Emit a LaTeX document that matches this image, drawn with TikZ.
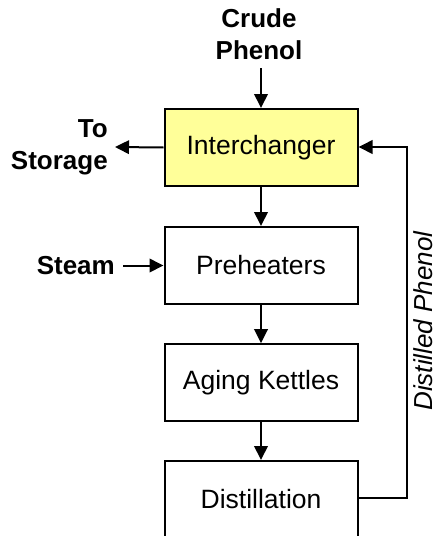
\documentclass[tikz,border=0pt]{standalone}
\usepackage{fontspec}
\setmainfont{Liberation Sans}
\usetikzlibrary{arrows.meta}
\definecolor{boxyellow}{HTML}{FFFF99}
\tikzset{
  unitbox/.style={draw=black, line width=2pt, minimum width=193pt, minimum height=77pt, inner sep=0pt, font=\fontsize{26.5}{30}\selectfont},
  flow/.style={line width=2pt, -{Triangle[length=14pt,width=13.5pt]}},
  lbl/.style={font=\fontsize{26}{32}\selectfont\bfseries, inner sep=0pt, align=center},
}
\begin{document}
\begin{tikzpicture}[x=1pt,y=-1pt]
\useasboundingbox (0,0) rectangle (438,536);
\node[unitbox, fill=boxyellow] (inter) at (261,147.5) {Interchanger};
\node[unitbox] (pre) at (261,265.5) {Preheaters};
\node[unitbox] (aging) at (261,382.7) {Aging Kettles};
\node[unitbox] (dist) at (261,499.5) {Distillation};
\node[lbl] (crude) at (259,34) {Crude\\Phenol};
\node[lbl, align=right, anchor=east] (store) at (108,147) {To\\Storage};
\node[lbl, anchor=east] (steam) at (115,266) {Steam};
\node[font=\fontsize{26}{30}\selectfont\itshape, rotate=90, inner sep=0pt, text depth=0pt, anchor=south] (dp) at (433,321) {Distilled Phenol};
\coordinate (cin) at (261,68);
\coordinate (sout) at (115,147);
\coordinate (stin) at (123,265.5);
\coordinate (c1) at (406.5,498);
\coordinate (c2) at (406.5,147);
\draw[flow] (cin) -- (inter.north);
\draw[flow] (inter.west) -- (sout);
\draw[flow] (stin) -- (pre.west);
\draw[flow] (inter.south) -- (pre.north);
\draw[flow] (pre.south) -- (aging.north);
\draw[flow] (aging.south) -- (dist.north);
\draw[flow] (dist.east |- c1) -- (c1) -- (c2) -- (inter.east |- c2);
\end{tikzpicture}
\end{document}
